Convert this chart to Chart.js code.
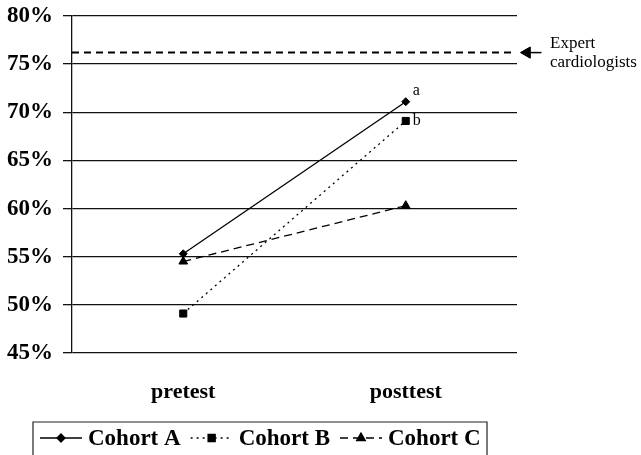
<!DOCTYPE html>
<html>
<head>
<meta charset="utf-8">
<script src="https://cdn.jsdelivr.net/npm/chart.js@4.4.1/dist/chart.umd.min.js"></script>
<style>
  html, body { margin: 0; padding: 0; background: #fff; }
  #wrap { width: 641px; height: 455px; }
</style>
</head>
<body>
<div id="wrap"><canvas id="chart"></canvas></div>
<script>
// values
const phases = ['pretest', 'posttest'];
const cohortNames = ['Cohort A', 'Cohort B', 'Cohort C'];
const cohortA = [55.3, 71.1];
const cohortB = [49.1, 69.1];
const cohortC = [54.5, 60.3];
const expertLevel = 76.2;
const expertLabel = ['Expert', 'cardiologists'];
const pointNotes = ['a', 'b', ''];
const yTicks = [45, 50, 55, 60, 65, 70, 75, 80];

const serif = "'Liberation Serif', 'Times New Roman', serif";
const ink = '#000';

const lineStyles = [
    { dash: [], point: 'rectRot', radius: 4 },
    { dash: [2, 4], point: 'rect', radius: 5 },
    { dash: [8, 5], point: 'triangle', radius: 5 },
];

const cohortSets = [cohortA, cohortB, cohortC].map((vals, i) => ({
    label: cohortNames[i],
    data: vals.map((v, j) => ({ x: j, y: v })),
    borderColor: ink,
    backgroundColor: ink,
    borderWidth: 1.3,
    borderDash: lineStyles[i].dash,
    pointStyle: lineStyles[i].point,
    pointRadius: lineStyles[i].radius,
    pointBorderWidth: 1,
    note: pointNotes[i],
}));

// dashed reference line + arrow tail pointing at it
const expertSets = [{
    label: 'expert',
    data: [{ x: -0.5, y: expertLevel }, { x: 1.48, y: expertLevel }],
    borderColor: ink,
    borderWidth: 2,
    borderDash: [7, 5],
    pointRadius: 0,
}, {
    label: 'arrow',
    data: [{ x: 1.545, y: expertLevel }, { x: 1.61, y: expertLevel }],
    borderColor: ink,
    borderWidth: 1.5,
    pointRadius: 0,
    clip: false,
}];

const notesPlugin = {
    id: 'notes',
    afterDatasetsDraw(chart) {
        const ctx = chart.ctx;
        const xs = chart.scales.x, ys = chart.scales.y;
        ctx.save();
        ctx.fillStyle = ink;
        ctx.strokeStyle = ink;
        ctx.font = '16px ' + serif;
        ctx.textAlign = 'left';
        ctx.textBaseline = 'middle';
        cohortSets.forEach((ds, i) => {
            if (!ds.note) return;
            const last = ds.data[ds.data.length - 1];
            const px = xs.getPixelForValue(last.x);
            const py = ys.getPixelForValue(last.y);
            ctx.fillText(ds.note, px + 7, i === 0 ? py - 11 : py);
        });
        // arrow head (sits outside the plot area, so points are not drawn by the line)
        const ey = ys.getPixelForValue(expertLevel);
        const head = expertSets[1].data[0];
        Chart.helpers.drawPoint(ctx, {
            pointStyle: 'triangle', radius: 6.5, rotation: -90, borderWidth: 1
        }, xs.getPixelForValue(head.x), ey);
        ctx.fill();
        // expert label, to the right of the arrow
        ctx.font = '17px ' + serif;
        ctx.fillText(expertLabel[0], 550, ey - 9);
        ctx.fillText(expertLabel[1], 550, ey + 10);
        ctx.restore();
    }
};

const legendPlugin = {
    id: 'boxLegend',
    afterDraw(chart) {
        const ctx = chart.ctx;
        const top = 422, left = 33, right = 487;
        const midY = 438;
        ctx.save();
        ctx.strokeStyle = '#222';
        ctx.lineWidth = 1.2;
        ctx.beginPath();
        ctx.moveTo(left, chart.height + 2);
        ctx.lineTo(left, top);
        ctx.lineTo(right, top);
        ctx.lineTo(right, chart.height + 2);
        ctx.stroke();

        ctx.font = 'bold 23px ' + serif;
        ctx.textBaseline = 'middle';
        ctx.fillStyle = ink;
        let x = 40;
        const sampleLen = 42;
        cohortSets.forEach((ds) => {
            ctx.strokeStyle = ink;
            ctx.lineWidth = 1.3;
            ctx.setLineDash(ds.borderDash);
            ctx.beginPath();
            ctx.moveTo(x, midY);
            ctx.lineTo(x + sampleLen, midY);
            ctx.stroke();
            ctx.setLineDash([]);
            Chart.helpers.drawPoint(ctx, {
                pointStyle: ds.pointStyle,
                radius: ds.pointRadius,
                rotation: 0,
                borderWidth: 1
            }, x + sampleLen / 2, midY);
            ctx.fill();
            x += sampleLen + 6;
            ctx.fillText(ds.label, x, midY + 1);
            x += ctx.measureText(ds.label).width + 10;
        });
        ctx.restore();
    }
};

new Chart(document.getElementById('chart'), {
    type: 'line',
    data: { datasets: [...expertSets, ...cohortSets] },
    plugins: [notesPlugin, legendPlugin],
    options: {
        responsive: true,
        maintainAspectRatio: false,
        animation: false,
        events: [],
        layout: { padding: { top: 16, right: 124, left: 0, bottom: 0 } },
        plugins: {
            legend: { display: false },
            tooltip: { enabled: false },
        },
        scales: {
            x: {
                type: 'linear',
                min: -0.5,
                max: 1.5,
                afterBuildTicks: (scale) => {
                    scale.ticks = phases.map((p, i) => ({ value: i }));
                },
                afterFit: (scale) => { scale.height = 102; },
                grid: { display: false },
                border: { display: false },
                ticks: {
                    padding: 18,
                    color: ink,
                    font: { family: serif, size: 22, weight: 'bold' },
                    callback: (v) => phases[v] || '',
                },
            },
            y: {
                min: 45,
                max: 80,
                afterBuildTicks: (scale) => {
                    scale.ticks = yTicks.map((v) => ({ value: v }));
                },
                afterFit: (scale) => {
                    scale.width = 72;
                    scale.paddingTop = 0;
                    scale.paddingBottom = 0;
                },
                grid: { color: '#111', lineWidth: 1.3, tickLength: 9, tickColor: '#111' },
                border: { display: true, color: '#111', width: 1.3 },
                ticks: {
                    padding: 10,
                    color: ink,
                    font: { family: serif, size: 23, weight: 'bold' },
                    callback: (v) => v + '%',
                },
            },
        },
    },
});
</script>
</body>
</html>
